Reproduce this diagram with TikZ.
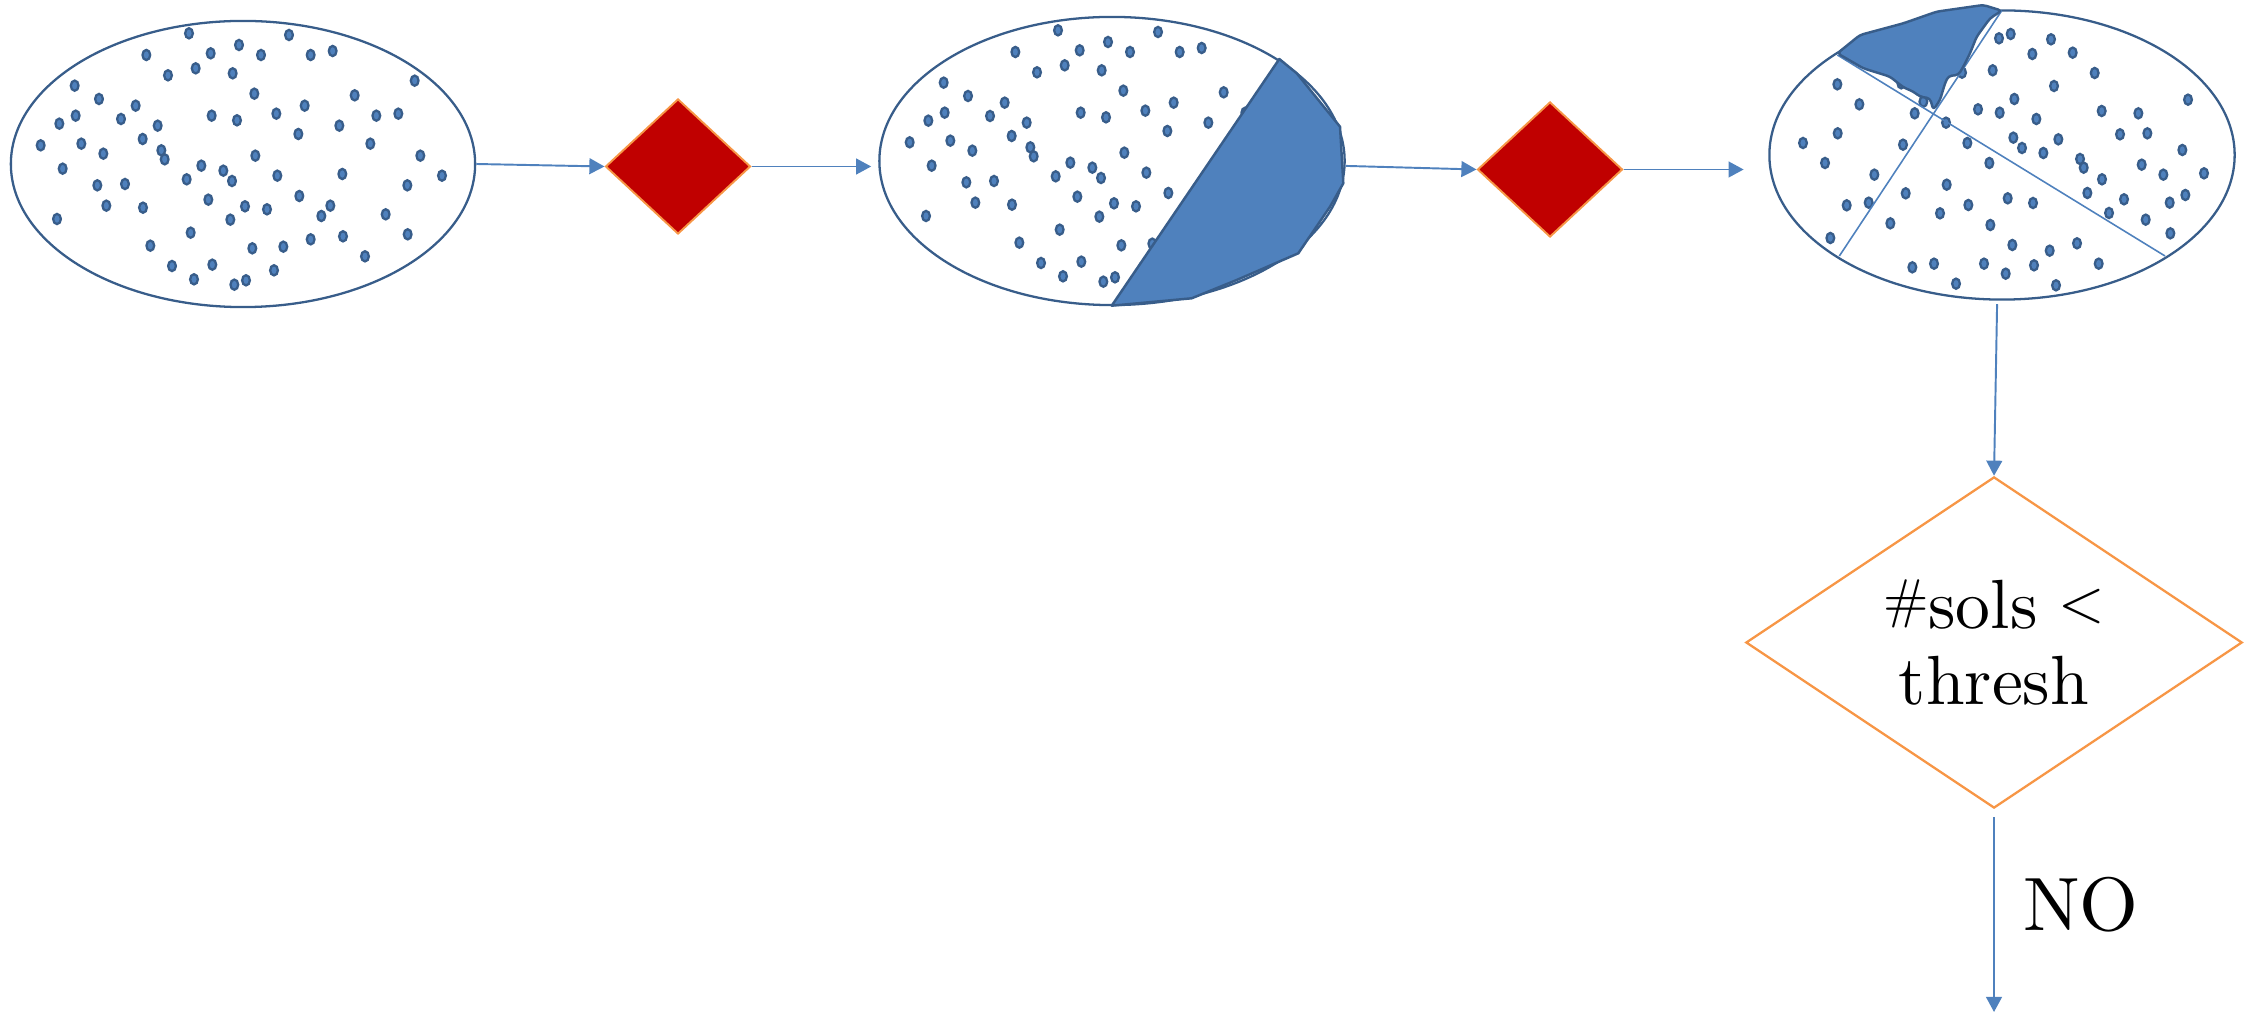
\documentclass[tikz,border=0pt]{standalone}
\usepackage{fontspec}
\newfontfamily\tenrm{lmroman10-regular.otf}
\usetikzlibrary{shapes.geometric,arrows.meta}
\definecolor{darkblue}{HTML}{385D8A}
\definecolor{accblue}{HTML}{4F81BD}
\definecolor{darkred}{HTML}{C00000}
\definecolor{orng}{HTML}{F79646}
\newcommand{\dotlistA}{567/100, 867/105, 439/165, 632/160, 717/135, 783/165, 932/165, 998/153, 504/226, 587/205, 698/220, 224/257, 1244/242, 297/297, 407/317, 763/281, 1064/286, 914/317, 227/347, 178/371, 363/357, 473/377, 635/347, 711/361, 829/341, 1129/347, 1195/341, 1018/377, 895/402, 122/436, 244/431, 428/417, 310/461, 484/451, 494/478, 766/467, 1111/431, 1261/467, 188/506, 604/497, 670/512, 696/543, 560/538, 832/527, 1027/522, 1326/527, 1222/556, 292/556, 375/552, 319/617, 429/623, 625/599, 898/588, 991/617, 964/648, 735/619, 801/628, 171/657, 691/659, 1157/643, 572/698, 451/737, 757/745, 850/740, 932/718, 1029/709, 1223/703, 1095/769, 516/798, 637/794, 582/838, 703/854, 738/841, 822/811}
\newcommand{\dotlistB}{747/115, 782/102, 903/118, 847/162, 968/158, 728/211, 1034/219, 636/218, 912/258, 262/253, 328/313, 793/297, 684/328, 749/338, 1055/333, 1165/340, 1314/299, 859/357, 494/340, 588/368, 263/400, 159/429, 459/434, 652/429, 790/413, 816/444, 925/418, 880/459, 1110/403, 1192/400, 1297/450, 225/489, 718/489, 990/477, 1001/503, 1175/494, 1240/524, 1362/520, 373/524, 1056/538, 590/554, 467/580, 1012/579, 1122/598, 1259/608, 1306/585, 290/616, 356/608, 655/615, 773/595, 849/609, 570/640, 1077/639, 1187/659, 421/670, 721/675, 241/714, 1261/700, 787/735, 899/752, 981/730, 487/802, 552/791, 702/791, 767/821, 852/796, 1046/791, 618/851, 918/856, 454/250, 520/305}
\begin{document}
\begin{tikzpicture}[x=0.01cm,y=-0.01cm,
  setell/.style={ellipse, draw=darkblue, line width=0.65pt, inner sep=0pt, minimum width=4.64cm, minimum height=2.86cm},
  reddia/.style={diamond, draw=orng, fill=darkred, line width=0.55pt, inner sep=0pt, minimum width=1.45cm, minimum height=1.35cm},
  bigdia/.style={diamond, draw=orng, line width=0.65pt, inner sep=0pt, aspect=1.6, minimum width=4.96cm, minimum height=3.31cm, align=center, font=\tenrm\fontsize{19.8}{21.6}\selectfont},
  arr/.style={draw=accblue, line width=0.55pt, -{Triangle[length=4.3pt,width=4.5pt]}},
  dotst/.style={draw=darkblue, fill=accblue, line width=0.65pt},
  cut/.style={draw=accblue, line width=0.45pt},
  blob/.style={draw=darkblue, fill=accblue, line width=0.7pt, line join=round}
]
\path[use as bounding box] (0,0) rectangle (2249,1013);

% sets
\node[setell] (e1) at (243,164) {};
\node[setell, minimum width=4.65cm, minimum height=2.88cm] (e2) at (1112,161) {};
\node[setell, minimum width=4.65cm, minimum height=2.89cm] (e3) at (2002,155) {};

% dots in set 1
\foreach \x/\y in \dotlistA {
  \draw[dotst] ({\x/3},{\y/3}) ellipse [x radius=1.1pt, y radius=1.45pt];
}
% dots in set 2
\begin{scope}[shift={(869,-3)}]
\foreach \x/\y in \dotlistA {
  \draw[dotst] ({\x/3},{\y/3}) ellipse [x radius=1.1pt, y radius=1.45pt];
}
\end{scope}
% cut region in set 2
\draw[blob] (1111.7,305.7) -- (1279.3,59) -- (1296.7,73.3) -- (1340,126.7) -- (1343.3,183.3) -- (1330,206.7) -- (1298.3,253.3) -- (1236.7,280) -- (1191.7,298.3) -- cycle;

% dots in set 3
\begin{scope}[shift={(1750,0)}]
\foreach \x/\y in \dotlistB {
  \draw[dotst] ({\x/3},{\y/3}) ellipse [x radius=1.1pt, y radius=1.45pt];
}
\end{scope}
\begin{scope}[shift={(1750,0)},scale=1/3]
\draw[cut] (262,165) -- (1245,768);
\draw[cut] (755,32) -- (268,768);
\draw[blob, rounded corners=1pt] (262,160) -- (330,105) -- (460,70) -- (560,35) -- (700,15) -- (755,32) -- (720,55) -- (680,110) -- (660,160) -- (640,200) -- (625,225) -- (595,228) -- (585,250) -- (570,300) -- (550,330) -- (540,295) -- (510,290) -- (490,275) -- (460,262) -- (420,230) -- (340,205) -- cycle;
\end{scope}

% decisions
\node[reddia] (d1) at (678,166.5) {};
\node[reddia] (d2) at (1550,169.5) {};
\node[bigdia] (d3) at (1994,642.5) {\raisebox{3pt}{\fontsize{15.5}{15.5}\selectfont\#}sols\hspace{0.3em}\raisebox{2pt}{\fontsize{17}{17}\selectfont\textless}\\thresh};
\node[inner sep=0pt, font=\tenrm\fontsize{21.5}{21.5}\selectfont] (no) at (2081,905) {NO};
\coordinate (out) at (1994,1012);

% connectors
\draw[arr] (e1.east) -- (d1.west);
\draw[arr, shorten >=2pt] (d1.east) -- (d1.east -| e2.west);
\draw[arr] ([yshift=-1.4pt]e2.east) -- (d2.west);
\draw[arr, shorten >=7pt] (d2.east) -- (d2.east -| e3.west);
\draw[arr] ([xshift=-1.4pt,yshift=-1pt]e3.south) -- (d3.north);
\draw[arr] ([yshift=-2.3pt]d3.south) -- (out);
\end{tikzpicture}
\end{document}
